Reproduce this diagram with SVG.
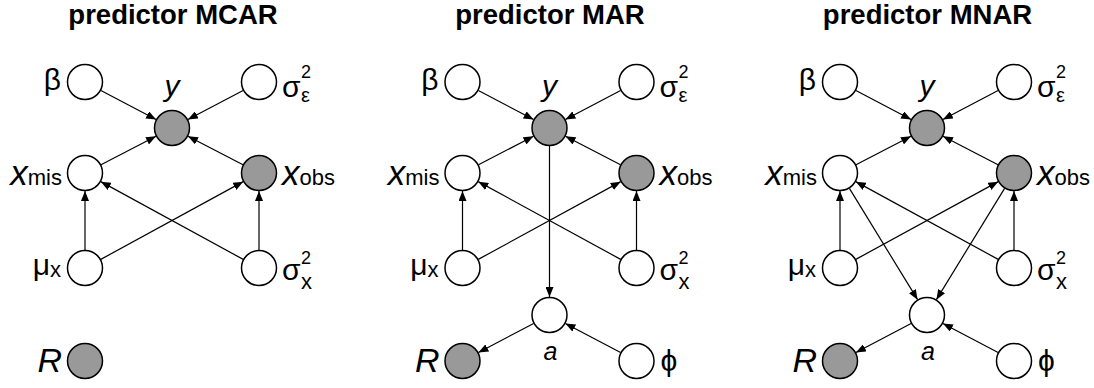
<svg xmlns="http://www.w3.org/2000/svg" width="1094" height="388" viewBox="0 0 1094 388">
<defs>
<marker id="arr" markerUnits="userSpaceOnUse" markerWidth="10" markerHeight="8" viewBox="0 0 10 8" refX="10" refY="4" orient="auto"><path d="M0,0 L10,4 L0,8 z" fill="#000"/></marker>
<style>
.n{fill:#fff;stroke:#000;stroke-width:1.5}
.o{fill:#999}
.e{stroke:#000;stroke-width:1.2;fill:none;marker-end:url(#arr)}
text{font-family:"Liberation Sans",Arial,sans-serif;fill:#000}
.ti{font-size:27.5px;font-weight:bold;text-anchor:middle}
.g{font-size:30px}
.it{font-style:italic}
.sb{font-size:22px}
.sp{font-size:18px}
.se{font-size:20px}
</style>
</defs>
<rect width="1094" height="388" fill="#fff"/>

<g id="titles">
<text class="ti" x="173" y="24">predictor MCAR</text>
<text class="ti" x="550" y="24">predictor MAR</text>
<text class="ti" x="927.5" y="24">predictor MNAR</text>
</g>

<g id="connectors">
<!-- panel 1 -->
<line class="e" x1="100.91" y1="90.41" x2="156.09" y2="119.59"/>
<line class="e" x1="243.09" y1="90.41" x2="187.91" y2="119.59"/>
<line class="e" x1="100.99" y1="164.73" x2="156.01" y2="136.27"/>
<line class="e" x1="243.01" y1="164.73" x2="187.99" y2="136.27"/>
<line class="e" x1="85" y1="250" x2="85" y2="191"/>
<line class="e" x1="259" y1="250" x2="259" y2="191"/>
<line class="e" x1="100.8" y1="259.37" x2="243.2" y2="181.63"/>
<line class="e" x1="243.2" y1="259.37" x2="100.8" y2="181.63"/>
<!-- panel 2 -->
<g transform="translate(377.5,0)">
<line class="e" x1="100.91" y1="90.41" x2="156.09" y2="119.59"/>
<line class="e" x1="243.09" y1="90.41" x2="187.91" y2="119.59"/>
<line class="e" x1="100.99" y1="164.73" x2="156.01" y2="136.27"/>
<line class="e" x1="243.01" y1="164.73" x2="187.99" y2="136.27"/>
<line class="e" x1="85" y1="250" x2="85" y2="191"/>
<line class="e" x1="259" y1="250" x2="259" y2="191"/>
<line class="e" x1="100.8" y1="259.37" x2="243.2" y2="181.63"/>
<line class="e" x1="243.2" y1="259.37" x2="100.8" y2="181.63"/>
<line class="e" x1="172" y1="146" x2="172" y2="297"/>
<line class="e" x1="156.09" y1="323.41" x2="100.91" y2="352.59"/>
<line class="e" x1="243.09" y1="352.59" x2="187.91" y2="323.41"/>
</g>
<!-- panel 3 -->
<g transform="translate(755,0)">
<line class="e" x1="100.91" y1="90.41" x2="156.09" y2="119.59"/>
<line class="e" x1="243.09" y1="90.41" x2="187.91" y2="119.59"/>
<line class="e" x1="100.99" y1="164.73" x2="156.01" y2="136.27"/>
<line class="e" x1="243.01" y1="164.73" x2="187.99" y2="136.27"/>
<line class="e" x1="85" y1="250" x2="85" y2="191"/>
<line class="e" x1="259" y1="250" x2="259" y2="191"/>
<line class="e" x1="100.8" y1="259.37" x2="243.2" y2="181.63"/>
<line class="e" x1="243.2" y1="259.37" x2="100.8" y2="181.63"/>
<line class="e" x1="94.4" y1="188.35" x2="162.6" y2="299.65"/>
<line class="e" x1="249.6" y1="188.35" x2="181.4" y2="299.65"/>
<line class="e" x1="156.09" y1="323.41" x2="100.91" y2="352.59"/>
<line class="e" x1="243.09" y1="352.59" x2="187.91" y2="323.41"/>
</g>
</g>

<!-- Panel 1 nodes -->
<g id="p1-beta"><circle class="n" cx="85" cy="82" r="17.5"/><text class="g" x="61" y="89.5" text-anchor="end">β</text></g>
<g id="p1-sige"><circle class="n" cx="259" cy="82" r="17.5"/><text class="g" x="282" y="96.5">σ</text><text class="sp" x="301" y="78">2</text><text class="se" x="301" y="102">ε</text></g>
<g id="p1-y"><circle class="n o" cx="172" cy="128" r="17.5"/><text class="it" font-size="30" x="172" y="95.5" text-anchor="middle">y</text></g>
<g id="p1-xmis"><circle class="n" cx="85" cy="173" r="17.5"/><text x="62" y="185" text-anchor="end"><tspan class="it" font-size="35">x</tspan><tspan class="sb">mis</tspan></text></g>
<g id="p1-xobs"><circle class="n o" cx="259" cy="173" r="17.5"/><text x="282" y="185"><tspan class="it" font-size="35">x</tspan><tspan class="sb">obs</tspan></text></g>
<g id="p1-mux"><circle class="n" cx="85" cy="268" r="17.5"/><text x="61" y="274.5" text-anchor="end"><tspan class="g">μ</tspan><tspan class="sb" dy="2">x</tspan></text></g>
<g id="p1-sigx"><circle class="n" cx="259" cy="268" r="17.5"/><text class="g" x="282" y="280">σ</text><text class="sp" x="301" y="264">2</text><text class="sb" x="301" y="289">x</text></g>
<g id="p1-R"><circle class="n o" cx="85" cy="361" r="17.5"/><text class="it" font-size="34" x="62" y="372" text-anchor="end">R</text></g>

<!-- Panel 2 nodes -->
<g id="p2" transform="translate(377.5,0)">
<g id="p2-beta"><circle class="n" cx="85" cy="82" r="17.5"/><text class="g" x="61" y="89.5" text-anchor="end">β</text></g>
<g id="p2-sige"><circle class="n" cx="259" cy="82" r="17.5"/><text class="g" x="282" y="96.5">σ</text><text class="sp" x="301" y="78">2</text><text class="se" x="301" y="102">ε</text></g>
<g id="p2-y"><circle class="n o" cx="172" cy="128" r="17.5"/><text class="it" font-size="30" x="172" y="95.5" text-anchor="middle">y</text></g>
<g id="p2-xmis"><circle class="n" cx="85" cy="173" r="17.5"/><text x="62" y="185" text-anchor="end"><tspan class="it" font-size="35">x</tspan><tspan class="sb">mis</tspan></text></g>
<g id="p2-xobs"><circle class="n o" cx="259" cy="173" r="17.5"/><text x="282" y="185"><tspan class="it" font-size="35">x</tspan><tspan class="sb">obs</tspan></text></g>
<g id="p2-mux"><circle class="n" cx="85" cy="268" r="17.5"/><text x="61" y="274.5" text-anchor="end"><tspan class="g">μ</tspan><tspan class="sb" dy="2">x</tspan></text></g>
<g id="p2-sigx"><circle class="n" cx="259" cy="268" r="17.5"/><text class="g" x="282" y="280">σ</text><text class="sp" x="301" y="264">2</text><text class="sb" x="301" y="289">x</text></g>
<g id="p2-a"><circle class="n" cx="172" cy="315" r="17.5"/><text class="it" font-size="25" x="173" y="360" text-anchor="middle">a</text></g>
<g id="p2-R"><circle class="n o" cx="85" cy="361" r="17.5"/><text class="it" font-size="34" x="62" y="372" text-anchor="end">R</text></g>
<g id="p2-phi"><circle class="n" cx="259" cy="361" r="17.5"/><text font-size="30" x="283" y="371">ϕ</text></g>
</g>

<!-- Panel 3 nodes -->
<g id="p3" transform="translate(755,0)">
<g id="p3-beta"><circle class="n" cx="85" cy="82" r="17.5"/><text class="g" x="61" y="89.5" text-anchor="end">β</text></g>
<g id="p3-sige"><circle class="n" cx="259" cy="82" r="17.5"/><text class="g" x="282" y="96.5">σ</text><text class="sp" x="301" y="78">2</text><text class="se" x="301" y="102">ε</text></g>
<g id="p3-y"><circle class="n o" cx="172" cy="128" r="17.5"/><text class="it" font-size="30" x="172" y="95.5" text-anchor="middle">y</text></g>
<g id="p3-xmis"><circle class="n" cx="85" cy="173" r="17.5"/><text x="62" y="185" text-anchor="end"><tspan class="it" font-size="35">x</tspan><tspan class="sb">mis</tspan></text></g>
<g id="p3-xobs"><circle class="n o" cx="259" cy="173" r="17.5"/><text x="282" y="185"><tspan class="it" font-size="35">x</tspan><tspan class="sb">obs</tspan></text></g>
<g id="p3-mux"><circle class="n" cx="85" cy="268" r="17.5"/><text x="61" y="274.5" text-anchor="end"><tspan class="g">μ</tspan><tspan class="sb" dy="2">x</tspan></text></g>
<g id="p3-sigx"><circle class="n" cx="259" cy="268" r="17.5"/><text class="g" x="282" y="280">σ</text><text class="sp" x="301" y="264">2</text><text class="sb" x="301" y="289">x</text></g>
<g id="p3-a"><circle class="n" cx="172" cy="315" r="17.5"/><text class="it" font-size="25" x="173" y="360" text-anchor="middle">a</text></g>
<g id="p3-R"><circle class="n o" cx="85" cy="361" r="17.5"/><text class="it" font-size="34" x="62" y="372" text-anchor="end">R</text></g>
<g id="p3-phi"><circle class="n" cx="259" cy="361" r="17.5"/><text font-size="30" x="283" y="371">ϕ</text></g>
</g>
</svg>
